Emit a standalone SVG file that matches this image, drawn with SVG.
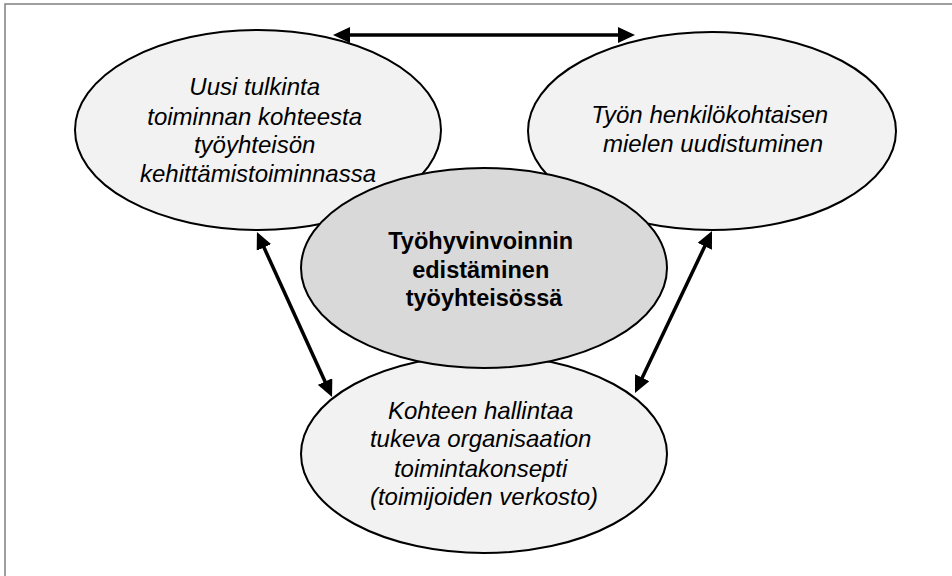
<svg xmlns="http://www.w3.org/2000/svg" width="952" height="576" viewBox="0 0 952 576">
  <style>
    .frame { fill: none; stroke: #808080; stroke-width: 1.5; }
    .outer { fill: #f2f2f2; stroke: #000; stroke-width: 2; }
    .core { fill: #d9d9d9; stroke: #000; stroke-width: 2; }
    .lbl { font-family: "Liberation Sans", Arial, sans-serif; font-size: 24px; font-style: italic; fill: #000; text-anchor: middle; }
    .lbl-core { font-family: "Liberation Sans", Arial, sans-serif; font-size: 23.5px; font-weight: bold; fill: #000; text-anchor: middle; }
    .conn { stroke: #000; stroke-width: 3.5; fill: none; marker-start: url(#head); marker-end: url(#head); }
  </style>
  <defs>
    <marker id="head" markerUnits="userSpaceOnUse" markerWidth="17" markerHeight="16" refX="6" refY="8" orient="auto-start-reverse" viewBox="0 0 17 16">
      <path d="M0,0 L17,8 L0,16 z" fill="#000"/>
    </marker>
  </defs>

  <rect class="frame" x="5" y="4" width="1000" height="640"/>

  <g id="node-tulkinta">
    <ellipse class="outer" cx="258" cy="130" rx="183" ry="100"/>
    <text class="lbl">
      <tspan x="258" y="95">Uusi tulkinta</tspan>
      <tspan x="258" y="125">toiminnan kohteesta</tspan>
      <tspan x="258" y="153">työyhteisön</tspan>
      <tspan x="258" y="182">kehittämistoiminnassa</tspan>
    </text>
  </g>

  <g id="node-mieli">
    <ellipse class="outer" cx="712" cy="131" rx="184" ry="99"/>
    <text class="lbl">
      <tspan x="713" y="123">Työn henkilökohtaisen</tspan>
      <tspan x="713" y="152">mielen uudistuminen</tspan>
    </text>
  </g>

  <g id="node-konsepti">
    <ellipse class="outer" cx="484" cy="454" rx="183" ry="99"/>
    <text class="lbl">
      <tspan x="484" y="419">Kohteen hallintaa</tspan>
      <tspan x="484" y="447">tukeva organisaation</tspan>
      <tspan x="484" y="477">toimintakonsepti</tspan>
      <tspan x="484" y="505">(toimijoiden verkosto)</tspan>
    </text>
  </g>

  <g id="node-tyohyvinvointi">
    <ellipse class="core" cx="484" cy="268" rx="183" ry="100"/>
    <text class="lbl-core">
      <tspan x="484" y="249">Työhyvinvoinnin</tspan>
      <tspan x="484" y="278">edistäminen</tspan>
      <tspan x="484" y="306">työyhteisössä</tspan>
    </text>
  </g>

  <g id="connectors">
    <line class="conn" x1="344" y1="35" x2="624" y2="35"/>
    <line class="conn" x1="261.5" y1="242" x2="327.5" y2="387"/>
    <line class="conn" x1="707.3" y1="240.9" x2="639.7" y2="383.1"/>
  </g>
</svg>
